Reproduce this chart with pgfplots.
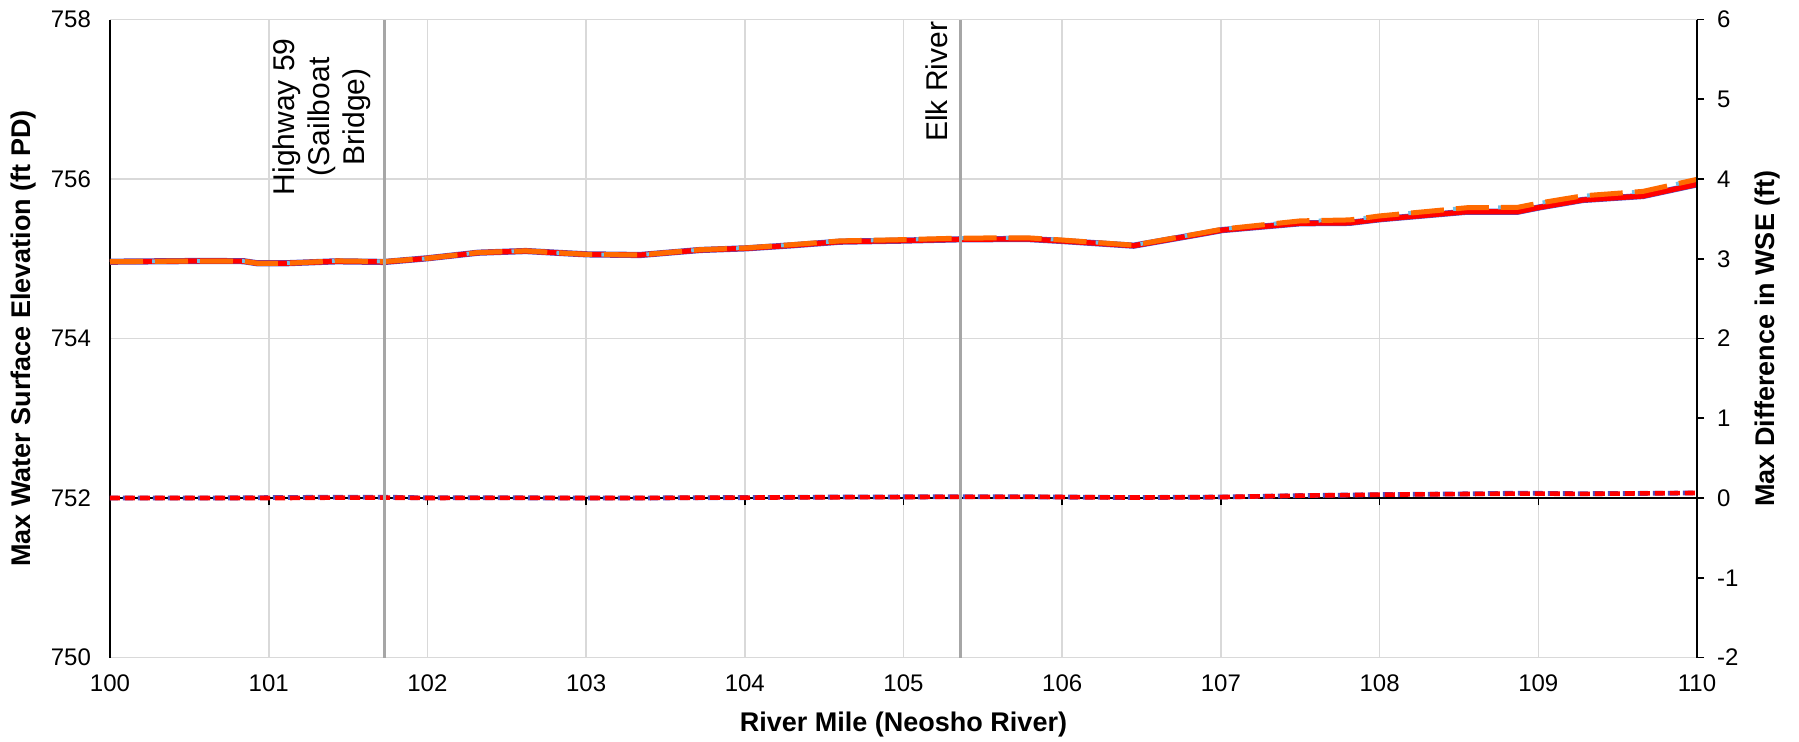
\documentclass[border=0pt]{standalone}
\usepackage{fontspec}
\setmainfont{Liberation Sans}
\usepackage{pgfplots}
\usepackage{pgfplotstable}
\pgfplotsset{compat=1.18}
\definecolor{gridc}{HTML}{D9D9D9}
\definecolor{markc}{HTML}{A6A6A6}
\definecolor{orng}{HTML}{FF6A00}
\definecolor{lblue}{HTML}{6EC1EA}
\definecolor{bluec}{HTML}{5050C8}

\pgfplotstableread{
x      red      orange   diffr  diffb
100.00 754.963  754.963  0.000  0.000
100.55 754.972  754.972  0.000  0.000
100.84 754.970  754.970  0.000  0.002
100.93 754.943  754.943  0.000  0.004
101.10 754.943  754.943  0.000  0.006
101.43 754.968  754.973  0.005  0.010
101.73 754.960  754.965  0.005  0.010
102.00 755.006  755.006  0.000  0.002
102.32 755.076  755.078  0.002  0.002
102.62 755.097  755.099  0.002  0.002
102.88 755.068  755.068  0.000  0.000
103.01 755.055  755.055  0.000  0.000
103.34 755.047  755.047  0.000  0.000
103.72 755.110  755.114  0.004  0.004
104.01 755.131  755.136  0.005  0.005
104.30 755.169  755.177  0.008  0.008
104.60 755.214  755.224  0.010  0.012
104.98 755.227  755.239  0.012  0.014
105.36 755.244  755.259  0.015  0.015
105.78 755.248  755.263  0.015  0.015
106.00 755.223  755.235  0.012  0.012
106.45 755.164  755.170  0.006  0.006
106.87 755.310  755.320  0.010  0.010
107.01 755.360  755.372  0.012  0.012
107.50 755.445  755.475  0.030  0.030
107.81 755.450  755.487  0.037  0.037
108.00 755.495  755.537  0.042  0.042
108.55 755.590  755.640  0.050  0.052
108.87 755.590  755.645  0.055  0.060
109.01 755.645  755.700  0.055  0.058
109.28 755.737  755.789  0.052  0.054
109.66 755.787  755.845  0.058  0.058
110.00 755.933  755.996  0.063  0.063
}\data

\begin{document}
\begin{tikzpicture}
\begin{axis}[
  scale only axis, width=793.5pt, height=319pt,
  xmin=100, xmax=110, ymin=750, ymax=758,
  xtick={100,101,...,110}, ytick={750,752,...,758},
  axis x line*=bottom, axis y line*=left,
  x axis line style={gridc, line width=0.8pt, -},
  y axis line style={black, line width=0.8pt, -},
  major tick length=0pt,
  grid=major, major grid style={gridc, line width=0.8pt},
  tick label style={font=\fontsize{12}{14}\selectfont},
  /pgf/number format/assume math mode=true,
  /pgf/number format/1000 sep={},
  xticklabel style={yshift=-5pt},
  yticklabel style={xshift=-6pt},
  xlabel={River Mile (Neosho River)},
  ylabel={Max Water Surface Elevation (ft PD)},
  label style={font=\bfseries\fontsize{13.5}{16}\selectfont},
  xlabel style={at={(axis description cs:0.5,0)}, anchor=center, yshift=-33.75pt},
  ylabel style={at={(axis description cs:-0.0548,0.5)}, anchor=center},
]
\addplot[bluec, line width=3.1pt, no markers] table[x=x, y=red] {\data};
\addplot[red, line width=2.6pt, no markers] table[x=x, y=red] {\data};
\addplot[lblue, line width=2pt, no markers, dash pattern=on 1.4pt off 21.1pt, dash phase=1.4pt] table[x=x, y=orange] {\data};
\addplot[orng, line width=2.5pt, no markers, dash pattern=on 16.5pt off 6pt] table[x=x, y=orange] {\data};
\end{axis}
\begin{axis}[
  scale only axis, width=793.5pt, height=319pt,
  xmin=100, xmax=110, ymin=-2, ymax=6,
  xtick={100,101,...,110}, xticklabels={},
  ytick={-2,-1,...,6},
  axis y line*=right, axis x line*=middle,
  axis line style={black, line width=0.8pt, -},
  tick style={black, line width=0.8pt},
  major tick length=3.5pt,
  xtick align=outside, ytick align=outside,
  tick label style={font=\fontsize{12}{14}\selectfont},
  /pgf/number format/assume math mode=true,
  yticklabel style={xshift=3pt},
  ylabel={Max Difference in WSE (ft)},
  label style={font=\bfseries\fontsize{13.5}{16}\selectfont},
  ylabel style={at={(axis description cs:1.0447,0.5)}, anchor=center},
]
\addplot[bluec, line width=2.4pt, no markers, dash pattern=on 5pt off 2.5pt, dash phase=1pt] table[x=x, y=diffb] {\data};
\addplot[red, line width=2.3pt, no markers, dash pattern=on 5pt off 2.5pt] table[x=x, y=diffr] {\data};
\addplot[markc, line width=1.6pt, no markers] coordinates {(101.728,-2) (101.728,6)};
\addplot[markc, line width=1.6pt, no markers] coordinates {(105.358,-2) (105.358,6)};
\node[rotate=90, align=center, font=\fontsize{15}{17.5}\selectfont] at (axis cs:101.336,4.78) {Highway 59\\(Sailboat\\Bridge)};
\node[rotate=90, font=\fontsize{15}{17.5}\selectfont] at (axis cs:105.21,5.22) {Elk River};
\end{axis}
\pgfresetboundingbox
\path[use as bounding box] (-55pt,-41.75pt) rectangle (844.5pt,328.75pt);
\end{tikzpicture}
\end{document}
